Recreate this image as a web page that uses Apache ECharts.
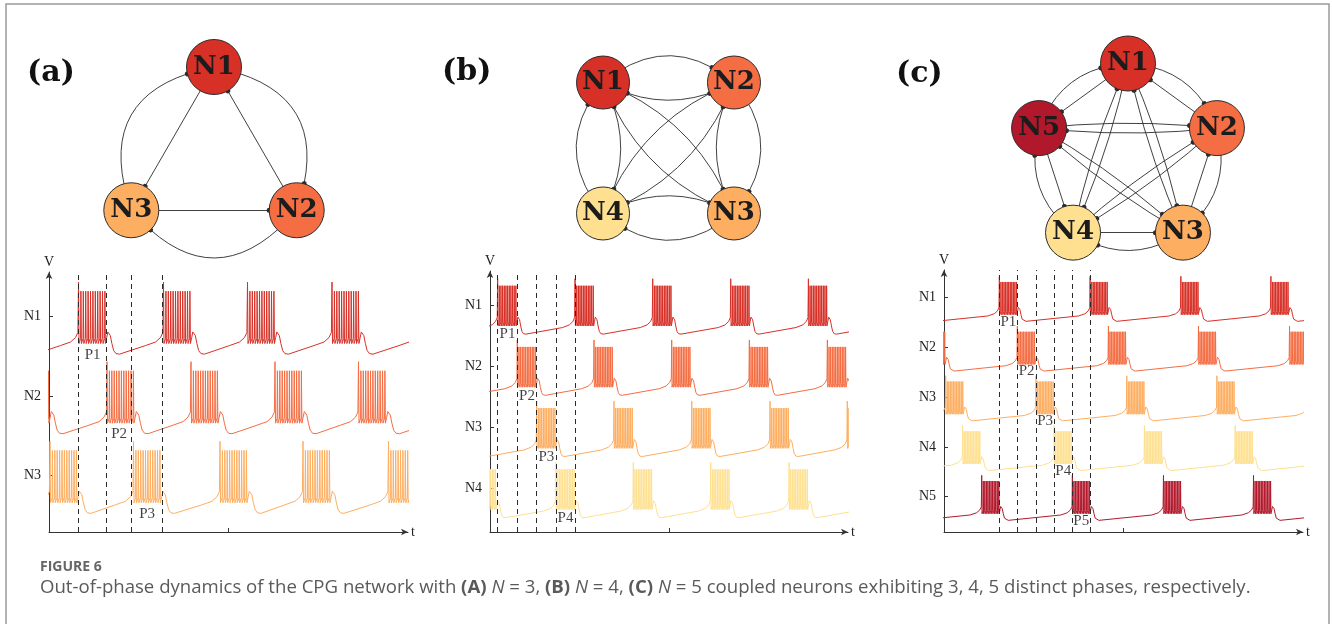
<!DOCTYPE html>
<html>
<head>
<meta charset="utf-8">
<title>CPG network out-of-phase dynamics</title>
<script src="https://cdn.jsdelivr.net/npm/echarts@6/dist/echarts.min.js"></script>
<style>
  html, body { margin: 0; padding: 0; background: #ffffff; }
  #fig { width: 1332px; height: 624px; }
</style>
</head>
<body>
<div id="fig"></div>
<script>
// ---------------------------------------------------------------------------
// Data
// ---------------------------------------------------------------------------

// neuron colours (nodes and voltage traces)
const neuronColor = {
  N1: '#d73027',
  N2: '#f46d43',
  N3: '#fdae61',
  N4: '#fee090',
  N5: '#b2182b'
};

// neurons of each network
const namesA = ['N1', 'N2', 'N3'];
const namesB = ['N1', 'N2', 'N3', 'N4'];
const namesC = ['N1', 'N2', 'N3', 'N4', 'N5'];

// directed couplings: [from, to, kind]
const linksA = [
  ['N1', 'N2', 'ring'], ['N2', 'N3', 'ring'], ['N3', 'N1', 'ring'],
  ['N2', 'N1', 'chord'], ['N3', 'N2', 'chord'], ['N1', 'N3', 'chord']
];
const linksB = [
  ['N1', 'N2', 'outer'], ['N2', 'N3', 'outer'], ['N3', 'N4', 'outer'], ['N4', 'N1', 'outer'],
  ['N2', 'N1', 'inner'], ['N3', 'N2', 'inner'], ['N4', 'N3', 'inner'], ['N1', 'N4', 'inner'],
  ['N1', 'N3', 'diag'], ['N3', 'N1', 'diag'], ['N2', 'N4', 'diag'], ['N4', 'N2', 'diag']
];
const linksC = [
  ['N1', 'N2', 'ring'], ['N2', 'N3', 'ring'], ['N3', 'N4', 'ring'], ['N4', 'N5', 'ring'], ['N5', 'N1', 'ring'],
  ['N2', 'N1', 'chord'], ['N3', 'N2', 'chord'], ['N4', 'N3', 'chord'], ['N5', 'N4', 'chord'], ['N1', 'N5', 'chord'],
  ['N1', 'N3', 'diag'], ['N3', 'N1', 'diag'], ['N1', 'N4', 'diag'], ['N4', 'N1', 'diag'],
  ['N2', 'N4', 'diag'], ['N4', 'N2', 'diag'], ['N2', 'N5', 'diag'], ['N5', 'N2', 'diag'],
  ['N3', 'N5', 'diag'], ['N5', 'N3', 'diag']
];

// length of the time axis of each recording (time units)
const timeSpan = [359, 519, 555];

// burst onset times of every neuron (time units)
const onsetsA = {
  N1: [-55, 29.5, 114.5, 198.5, 283, 368],
  N2: [-27, 58, 142, 226, 309.5, 394],
  N3: [1, 84.5, 171, 254, 339.5]
};
const onsetsB = {
  N1: [-101.5, 11.1, 123.3, 235.9, 349, 461.6, 574],
  N2: [-72.8, 39.6, 150.8, 263.4, 376, 489.1],
  N3: [-44.9, 67.7, 179.8, 292.5, 406, 518],
  N4: [-18.4, 95.7, 207.8, 320, 433.6, 546]
};
const onsetsC = {
  N1: [-54.4, 85.6, 225.9, 366.2, 505.4, 645],
  N2: [-25.3, 113.4, 254.2, 393.4, 534.2],
  N3: [2.6, 142.3, 282.6, 421.9, 562],
  N4: [-111, 28.9, 170.2, 309.9, 450.2, 590],
  N5: [-81.7, 58.3, 198.5, 339.3, 478.5, 618]
};

// phase boundaries (dashed lines) of one full cycle
const phaseMarksA = [29.7, 57.7, 82.7, 113.7];
const phaseMarksB = [11.1, 39.6, 67.6, 95.7, 123.3];
const phaseMarksC = [85.6, 113.4, 142.3, 170.2, 198.5, 225.9];

// one bursting event: [time after onset, voltage about the neuron's row line]
const burstWave = [
  [-18, -29], [-8, -25.5], [-3, -21], [-0.6, -16],
  [0, 34], [0.5, -27],
  [2.1, -22], [2.4, 25], [2.9, -27],
  [4.5, -22], [4.8, 25], [5.3, -27],
  [6.9, -22], [7.2, 25], [7.7, -27],
  [9.3, -22], [9.6, 25], [10.1, -27],
  [11.7, -22], [12.0, 25], [12.5, -27],
  [14.1, -22], [14.4, 25], [14.9, -27],
  [16.5, -22], [16.8, 25], [17.3, -27],
  [18.9, -22], [19.2, 25], [19.7, -27],
  [21.3, -22], [21.6, 25], [22.1, -27],
  [23.7, -22], [24.0, 25], [24.5, -27],
  [26.1, -22], [26.4, 25], [26.9, -27],
  [28.2, -21], [29.3, -15.5], [30.5, -15], [31.8, -19], [33.4, -27],
  [35.2, -34], [37.5, -37], [41, -37.5]
];

// caption
const figureTag = 'FIGURE 6';
const captionText = 'Out-of-phase dynamics of the CPG network with {b|(A)} {i|N} = 3, {b|(B)} {i|N} = 4, ' +
  '{b|(C)} {i|N} = 5 coupled neurons exhibiting 3, 4, 5 distinct phases, respectively.';

// ---------------------------------------------------------------------------
// Layout and styling
// ---------------------------------------------------------------------------
const SERIF = '"Liberation Serif", "Times New Roman", serif';
const NODE_FONT = '"DejaVu Serif", serif';
const SANS = '"Open Sans", "Noto Sans", sans-serif';
const INK = '#222222';
const CAPTION_SIZE = 18.6;

// vertical spacing of the rows in voltage units
const ROW_GAP = 79, ROW_BASE = 56, ROW_HEAD = 44;

const panels = [
  {
    tag: '(a)', tagPos: [27, 73], names: namesA, links: linksA, onsets: onsetsA, marks: phaseMarksA, span: timeSpan[0],
    grid: { left: 49, top: 272, width: 359, height: 260 },
    ring: { cx: 214, cy: 162.5, r: 95.5, start: -90, size: 55, curve: { ring: 0.577, chord: 0 } }
  },
  {
    tag: '(b)', tagPos: [442, 72], names: namesB, links: linksB, onsets: onsetsB, marks: phaseMarksB, span: timeSpan[1],
    grid: { left: 490, top: 271, width: 358, height: 261 },
    ring: { cx: 668.5, cy: 148, r: 92.6, start: -135, size: 53, curve: { outer: 0.41, inner: 0.27, diag: 0.22 } }
  },
  {
    tag: '(c)', tagPos: [896, 74], names: namesC, links: linksC, onsets: onsetsC, marks: phaseMarksC, span: timeSpan[2],
    grid: { left: 944, top: 270, width: 359, height: 262 },
    ring: { cx: 1128, cy: 157, r: 93.5, start: -90, size: 55, curve: { ring: 0.325, chord: 0, diag: 0.055 } }
  }
];

// voltage trace of one neuron: the burst waveform placed at each onset
function buildTrace(onsets, rowLine) {
  const pts = [];
  onsets.forEach(function (t0) {
    burstWave.forEach(function (p) { pts.push([t0 + p[0], rowLine + p[1]]); });
  });
  return pts;
}

const grids = [], xAxes = [], yAxes = [], series = [], graphics = [];

panels.forEach(function (p, pi) {
  const n = p.names.length;
  const rowLine = function (k) { return ROW_BASE + ROW_GAP * (n - 1 - k); };
  const rowValues = p.names.map(function (_, k) { return rowLine(k); });
  const yMax = ROW_BASE + ROW_GAP * (n - 1) + ROW_HEAD;

  grids.push(Object.assign({}, p.grid));

  const axisLine = {
    show: true, onZero: false, symbol: ['none', 'arrow'], symbolSize: [5, 7],
    lineStyle: { color: '#333333', width: 1 }
  };
  const nameStyle = { fontFamily: SERIF, fontSize: 14, color: INK };

  xAxes.push({
    gridIndex: pi, type: 'value', min: 0, max: p.span,
    name: 't', nameLocation: 'end', nameGap: 3, nameTextStyle: Object.assign({ verticalAlign: 'middle' }, nameStyle),
    axisLine: axisLine,
    axisTick: { show: true, inside: true, length: 4, customValues: [p.span / 2], lineStyle: { color: '#333333' } },
    axisLabel: { show: false },
    splitLine: { show: false }
  });

  yAxes.push({
    gridIndex: pi, type: 'value', min: 0, max: yMax,
    name: 'V', nameLocation: 'end', nameGap: 3, nameTextStyle: nameStyle,
    axisLine: axisLine,
    axisTick: { show: true, inside: true, length: 4, customValues: rowValues, lineStyle: { color: '#333333' } },
    axisLabel: {
      show: true, customValues: rowValues, margin: 8,
      fontFamily: SERIF, fontSize: 14, color: INK,
      formatter: function (v) {
        const k = n - 1 - Math.round((v - ROW_BASE) / ROW_GAP);
        return p.names[k] || '';
      }
    },
    splitLine: { show: false }
  });

  // voltage traces
  p.names.forEach(function (name, k) {
    series.push({
      type: 'line', name: p.tag + ' ' + name, xAxisIndex: pi, yAxisIndex: pi,
      data: buildTrace(p.onsets[name], rowLine(k)),
      symbol: 'none', showSymbol: false, clip: true, silent: true, z: 2,
      lineStyle: { color: neuronColor[name], width: 1 },
      emphasis: { disabled: true }
    });
  });

  // dashed phase boundaries
  series.push({
    type: 'line', xAxisIndex: pi, yAxisIndex: pi, data: [], silent: true, z: 5,
    markLine: {
      silent: true, symbol: ['none', 'none'], animation: false,
      label: { show: false }, emphasis: { disabled: true },
      lineStyle: { color: '#2a2a2a', type: [5, 4], width: 1 },
      data: p.marks.map(function (v) { return { xAxis: v }; })
    }
  });

  // phase names P1..Pn under the corresponding bursts
  series.push({
    type: 'scatter', xAxisIndex: pi, yAxisIndex: pi, symbolSize: 1, silent: true, z: 6,
    itemStyle: { color: 'rgba(0,0,0,0)' },
    label: { show: true, position: 'inside', formatter: '{b}', fontFamily: SERIF, fontSize: 15, color: '#111111' },
    emphasis: { disabled: true },
    data: p.marks.slice(0, -1).map(function (m, i) {
      return { name: 'P' + (i + 1), value: [(m + p.marks[i + 1]) / 2, rowLine(i) - 38] };
    })
  });

  // coupling network: neurons on a regular polygon
  const L = p.ring;
  const nodes = p.names.map(function (name, i) {
    const a = (L.start + 360 * i / n) * Math.PI / 180;
    return {
      name: name,
      x: L.cx + L.r * Math.cos(a),
      y: L.cy + L.r * Math.sin(a),
      itemStyle: { color: neuronColor[name] }
    };
  });
  const xs = nodes.map(function (d) { return d.x; });
  const ys = nodes.map(function (d) { return d.y; });
  const minX = Math.min.apply(null, xs), maxX = Math.max.apply(null, xs);
  const minY = Math.min.apply(null, ys), maxY = Math.max.apply(null, ys);

  series.push({
    type: 'graph', layout: 'none', roam: false, silent: true, z: 3,
    left: minX, top: minY, width: maxX - minX, height: maxY - minY,
    symbol: 'circle', symbolSize: L.size,
    itemStyle: { borderColor: '#2b2b2b', borderWidth: 1 },
    label: {
      show: true, position: 'inside', formatter: '{b}',
      fontFamily: NODE_FONT, fontWeight: 'bold', fontSize: 26, color: '#1c1c1c'
    },
    edgeSymbol: ['none', 'circle'], edgeSymbolSize: [0, 5],
    lineStyle: { color: '#2b2b2b', width: 0.9, opacity: 1 },
    emphasis: { disabled: true },
    data: nodes,
    links: p.links.map(function (e) {
      return { source: e[0], target: e[1], lineStyle: { curveness: L.curve[e[2]] } };
    })
  });

  graphics.push({
    type: 'text', x: p.tagPos[0], y: p.tagPos[1], silent: true,
    style: { text: p.tag, fontFamily: NODE_FONT, fontWeight: 'bold', fontSize: 30, fill: '#111111', verticalAlign: 'middle' }
  });
});

// frame and caption
graphics.push({
  type: 'rect', silent: true, z: -1,
  shape: { x: 6, y: 4, width: 1323, height: 640 },
  style: { fill: 'none', stroke: '#9b9b9b', lineWidth: 1.5 }
});
graphics.push({
  type: 'text', x: 40, y: 567, silent: true,
  style: { text: figureTag, fontFamily: SANS, fontWeight: 'bold', fontSize: 14, fill: '#666666', verticalAlign: 'middle' }
});
graphics.push({
  type: 'text', x: 40, y: 588, silent: true,
  style: {
    text: captionText, fontFamily: SANS, fontSize: CAPTION_SIZE, fill: '#5a5a5a', verticalAlign: 'middle',
    rich: {
      b: { fontFamily: SANS, fontSize: CAPTION_SIZE, fontWeight: 'bold', fill: '#5a5a5a' },
      i: { fontFamily: SANS, fontSize: CAPTION_SIZE, fontStyle: 'italic', fill: '#5a5a5a' }
    }
  }
});

const chart = echarts.init(document.getElementById('fig'), null, { renderer: 'canvas' });
chart.setOption({
  backgroundColor: '#ffffff',
  animation: false,
  grid: grids,
  xAxis: xAxes,
  yAxis: yAxes,
  series: series,
  graphic: graphics
});
</script>
</body>
</html>
